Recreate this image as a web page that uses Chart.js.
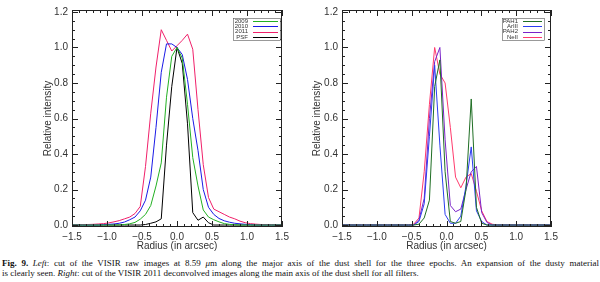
<!DOCTYPE html>
<html>
<head>
<meta charset="utf-8">
<script src="https://cdn.jsdelivr.net/npm/chart.js@4"></script>
<style>
  html, body { margin: 0; padding: 0; background: #fff; }
  #page { position: relative; width: 600px; height: 282px; overflow: hidden; }
  .panel { position: absolute; top: 0; width: 300px; height: 254px; }
  .caption { position: absolute; left: 2px; width: 597px; font-family: "Liberation Serif", serif;
             font-size: 9px; line-height: 10px; color: #111; white-space: nowrap; }
  #cap1 { top: 258px; text-align: justify; text-align-last: justify; white-space: normal; }
  #cap2 { top: 268px; }
</style>
</head>
<body>
<div id="page">
  <div class="panel" style="left:0"><canvas id="leftChart" width="300" height="254"></canvas></div>
  <div class="panel" style="left:300px"><canvas id="rightChart" width="300" height="254"></canvas></div>
  <div class="caption" id="cap1"><b>Fig. 9.</b> <i>Left</i>: cut of the VISIR raw images at 8.59 <i>μ</i>m along the major axis of the dust shell for the three epochs. An expansion of the dusty material</div>
  <div class="caption" id="cap2">is clearly seen. <i>Right</i>: cut of the VISIR 2011 deconvolved images along the main axis of the dust shell for all filters.</div>
</div>
<script>
(function() {
    'use strict';

    // tick values
    const xMajor = [-1.5, -1.0, -0.5, 0.0, 0.5, 1.0, 1.5];
    const xMinor = [-1.4, -1.3, -1.2, -1.1, -0.9, -0.8, -0.7, -0.6, -0.4, -0.3, -0.2, -0.1,
                    0.1, 0.2, 0.3, 0.4, 0.6, 0.7, 0.8, 0.9, 1.1, 1.2, 1.3, 1.4];
    const yMajor = [0.0, 0.2, 0.4, 0.6, 0.8, 1.0, 1.2];
    const yMinor = [0.05, 0.1, 0.15, 0.25, 0.3, 0.35, 0.45, 0.5, 0.55, 0.65, 0.7, 0.75,
                    0.85, 0.9, 0.95, 1.05, 1.1, 1.15];

    // left panel: raw cuts, radius in arcsec
    const radiusLeft = [-1.5, -1.425, -1.35, -1.275, -1.2, -1.125, -1.05, -0.975, -0.9, -0.825,
        -0.75, -0.675, -0.6, -0.525, -0.45, -0.375, -0.3, -0.225, -0.15, -0.075, 0,
        0.075, 0.15, 0.225, 0.3, 0.375, 0.45, 0.525, 0.6, 0.675, 0.75, 0.825, 0.9, 0.975,
        1.05, 1.125, 1.2, 1.275, 1.35, 1.425, 1.5];
    const epoch2009 = [0, 0, 0, 0, 0, 0, 0, 0, 0, 0.001,
        0.003, 0.007, 0.015, 0.033, 0.06, 0.11, 0.22, 0.35, 0.72, 0.95, 1.0,
        0.94, 0.68, 0.38, 0.22, 0.085, 0.045, 0.03, 0.018, 0.008, 0.004, 0.002, 0, 0,
        0, 0, 0, 0, 0, 0, 0];
    const epoch2010 = [0, 0, 0, 0, 0, 0, 0.002, 0.004, 0.006, 0.01,
        0.017, 0.03, 0.045, 0.08, 0.14, 0.27, 0.55, 0.86, 1.02, 1.02, 1.0,
        0.96, 0.82, 0.6, 0.42, 0.2, 0.1, 0.06, 0.037, 0.024, 0.016, 0.01, 0.007, 0.004,
        0.002, 0, 0, 0, 0, 0, 0];
    const epoch2011 = [0, 0.001, 0.002, 0.003, 0.004, 0.006, 0.008, 0.012, 0.018, 0.025,
        0.035, 0.045, 0.065, 0.105, 0.33, 0.63, 0.89, 1.10, 1.04, 0.98, 1.01,
        1.04, 1.075, 0.99, 0.65, 0.34, 0.155, 0.09, 0.075, 0.06, 0.045, 0.035, 0.022, 0.013,
        0.008, 0.005, 0.003, 0.002, 0.001, 0, 0];
    const psf = [0, 0, 0, 0, 0, 0, 0, 0, 0, 0,
        0, 0, 0, 0, 0.003, 0.01, 0.018, 0.035, 0.45, 0.78, 1.0,
        0.91, 0.57, 0.07, 0.027, 0.045, 0.013, 0, 0, 0, 0, 0, 0, 0,
        0, 0, 0, 0, 0, 0, 0];

    // right panel: deconvolved 2011 cuts
    const radiusRight = [-1.5, -1.445, -1.37, -1.295, -1.22, -1.145, -1.07, -0.995, -0.92, -0.845,
        -0.77, -0.695, -0.62, -0.545, -0.47, -0.395, -0.32, -0.245, -0.17, -0.095, -0.02,
        0.055, 0.13, 0.205, 0.28, 0.355, 0.43, 0.505, 0.58, 0.655, 0.73, 0.805, 0.88, 0.955,
        1.03, 1.105, 1.18, 1.255, 1.33, 1.405, 1.48, 1.5];
    const pah1 = [0, 0, 0, 0, 0, 0, 0, 0, 0, 0,
        0, 0, 0, 0, 0, 0.005, 0.04, 0.14, 0.78, 0.93, 0.3,
        0.02, 0.01, 0.02, 0.2, 0.71, 0.1, 0.01, 0, 0, 0, 0, 0, 0,
        0, 0, 0, 0, 0, 0, 0, 0];
    const arIII = [0, 0, 0, 0, 0, 0, 0, 0, 0, 0,
        0, 0, 0, 0, 0, 0.02, 0.12, 0.5, 0.9, 0.45, 0.06,
        0.01, 0.01, 0.05, 0.22, 0.44, 0.08, 0.02, 0, 0, 0, 0, 0, 0,
        0, 0, 0, 0, 0, 0, 0, 0];
    const pah2 = [0, 0, 0, 0, 0, 0, 0, 0, 0, 0,
        0, 0, 0, 0, 0, 0.03, 0.15, 0.6, 0.92, 1.0, 0.48,
        0.11, 0.075, 0.09, 0.2, 0.3, 0.33, 0.07, 0.015, 0, 0, 0, 0, 0,
        0, 0, 0, 0, 0, 0, 0, 0];
    const neII = [0, 0, 0, 0, 0, 0, 0, 0, 0, 0,
        0, 0, 0, 0, 0.005, 0.04, 0.3, 0.68, 1.0, 0.85, 0.8,
        0.55, 0.27, 0.21, 0.27, 0.29, 0.19, 0.08, 0.02, 0.005, 0, 0, 0, 0,
        0, 0, 0, 0, 0, 0, 0, 0];

    const leftSeries = [
        { label: '2009', values: epoch2009, color: '#22b022' },
        { label: '2010', values: epoch2010, color: '#1a1ae6' },
        { label: '2011', values: epoch2011, color: '#f0206a' },
        { label: 'PSF', values: psf, color: '#000000' }
    ];
    const rightSeries = [
        { label: 'PAH1', values: pah1, color: '#1f6e24' },
        { label: 'ArIII', values: arIII, color: '#2a3cf0' },
        { label: 'PAH2', values: pah2, color: '#7a22c8' },
        { label: 'NeII', values: neII, color: '#ff3a6c' }
    ];

    const fontFamily = '"Liberation Sans", Arial, sans-serif';
    const inkColor = '#333';

    function fmt(v) {
        const s = Math.abs(v).toFixed(1);
        return v < -1e-9 ? '\u2212' + s : s;
    }

    // box + inward ticks on all four sides, IDL style
    const frameTicks = {
        id: 'frameTicks',
        afterDatasetsDraw(chart) {
            const { ctx, chartArea: a, scales: { x, y } } = chart;
            ctx.save();
            ctx.strokeStyle = '#222';
            ctx.lineWidth = 1;
            ctx.strokeRect(a.left + 0.5, a.top + 0.5, a.width - 1, a.height - 1);
            ctx.beginPath();
            const xt = (vals, len) => vals.forEach(v => {
                const px = Math.round(x.getPixelForValue(v)) + 0.5;
                ctx.moveTo(px, a.bottom); ctx.lineTo(px, a.bottom - len);
                ctx.moveTo(px, a.top); ctx.lineTo(px, a.top + len);
            });
            const yt = (vals, len) => vals.forEach(v => {
                const py = Math.round(y.getPixelForValue(v)) + 0.5;
                ctx.moveTo(a.left, py); ctx.lineTo(a.left + len, py);
                ctx.moveTo(a.right, py); ctx.lineTo(a.right - len, py);
            });
            xt(xMajor, 6); xt(xMinor, 3);
            yt(yMajor, 6); yt(yMinor, 3);
            ctx.stroke();
            ctx.restore();
        }
    };

    // legend box in the top right corner: label, then line sample
    const cornerLegend = {
        id: 'cornerLegend',
        afterDraw(chart, args, opts) {
            const { ctx, chartArea: a } = chart;
            const bx = a.right - opts.fromRight, by = a.top + 8;
            ctx.save();
            ctx.fillStyle = '#fff';
            ctx.fillRect(bx, by, opts.width, 22);
            ctx.strokeStyle = '#555';
            ctx.lineWidth = 0.6;
            ctx.strokeRect(bx + 0.5, by + 0.5, opts.width, 22);
            ctx.font = '6px ' + fontFamily;
            ctx.textAlign = 'right';
            ctx.textBaseline = 'middle';
            chart.data.datasets.forEach((ds, i) => {
                const ly = by + 3 + i * 5.3;
                ctx.fillStyle = '#333';
                ctx.fillText(ds.label, bx + opts.textEnd, ly);
                ctx.strokeStyle = ds.borderColor;
                ctx.lineWidth = 1;
                ctx.beginPath();
                ctx.moveTo(bx + opts.textEnd + 5, Math.round(ly) + 0.5);
                ctx.lineTo(bx + opts.width - 2, Math.round(ly) + 0.5);
                ctx.stroke();
            });
            ctx.restore();
        }
    };

    function makeChart(canvasId, radius, series, pad, yWidth, legendOpts) {
        const ctx = document.getElementById(canvasId);
        return new Chart(ctx, {
            type: 'line',
            data: {
                datasets: series.map(s => ({
                    label: s.label,
                    data: radius.map((r, i) => ({ x: r, y: s.values[i] })),
                    borderColor: s.color,
                    borderWidth: 1,
                    pointRadius: 0,
                    tension: 0,
                    fill: false
                }))
            },
            options: {
                responsive: false,
                animation: false,
                layout: { padding: pad },
                plugins: {
                    legend: { display: false },
                    tooltip: { enabled: false },
                    cornerLegend: legendOpts
                },
                scales: {
                    x: {
                        type: 'linear',
                        min: -1.5,
                        max: 1.5,
                        afterBuildTicks: s => { s.ticks = xMajor.map(v => ({ value: v })); },
                        afterFit: s => { s.height = 27; },
                        grid: { display: false, drawTicks: false },
                        border: { display: false },
                        ticks: {
                            padding: 4,
                            maxRotation: 0,
                            color: inkColor,
                            font: { family: fontFamily, size: 10 },
                            callback: v => fmt(v)
                        },
                        title: {
                            display: true,
                            text: 'Radius (in arcsec)',
                            color: inkColor,
                            padding: { top: 0, bottom: 2 },
                            font: { family: fontFamily, size: 10 }
                        }
                    },
                    y: {
                        type: 'linear',
                        min: -0.011,
                        max: 1.211,
                        afterBuildTicks: s => { s.ticks = yMajor.map(v => ({ value: v })); },
                        afterFit: s => { s.width = yWidth; },
                        grid: { display: false, drawTicks: false },
                        border: { display: false },
                        ticks: {
                            padding: 4,
                            color: inkColor,
                            font: { family: fontFamily, size: 10 },
                            callback: v => fmt(v)
                        },
                        title: {
                            display: true,
                            text: 'Relative intensity',
                            color: inkColor,
                            padding: { top: 4, bottom: 0 },
                            font: { family: fontFamily, size: 10 }
                        }
                    }
                }
            },
            plugins: [frameTicks, cornerLegend]
        });
    }

    makeChart('leftChart', radiusLeft, leftSeries,
        { left: 38, right: 18, top: 2, bottom: 0 }, 34,
        { fromRight: 49, width: 47, textEnd: 15 });
    makeChart('rightChart', radiusRight, rightSeries,
        { left: 7, right: 49, top: 2, bottom: 0 }, 35,
        { fromRight: 49, width: 42, textEnd: 16 });
})();
</script>
</body>
</html>
